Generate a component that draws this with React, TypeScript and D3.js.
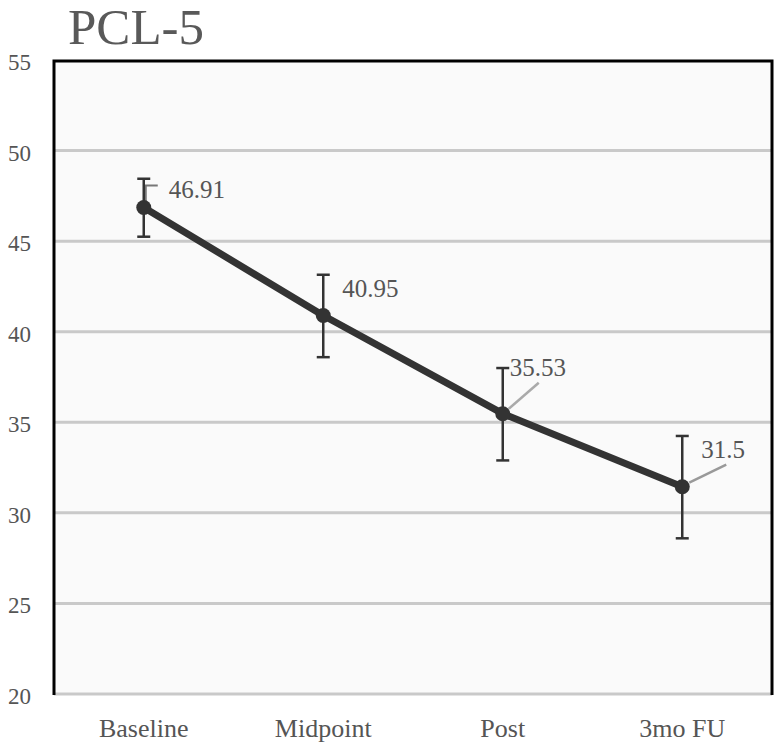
import React from "react";
import * as d3 from "d3";

const categories = ["Baseline", "Midpoint", "Post", "3mo FU"];
const means = [46.91, 40.95, 35.53, 31.5];
const upper = [48.5, 43.2, 38.05, 34.3];
const lower = [45.3, 38.65, 32.95, 28.65];
const yTicks = [20, 25, 30, 35, 40, 45, 50, 55];
const labelText = ["46.91", "40.95", "35.53", "31.5"];

const W = 775;
const H = 745;
const M = { left: 54, right: 772, top: 61, bottom: 695 };
const FONT = '"Liberation Serif", serif';

export default function App() {
  const x = d3.scaleBand<string>().domain(categories).range([M.left, M.right]);
  const y = d3.scaleLinear().domain([20, 55]).range([M.bottom, M.top]);
  const cx = (c: string) => (x(c) as number) + x.bandwidth() / 2;
  const line = d3
    .line<number>()
    .x((_, i) => cx(categories[i]))
    .y((d) => y(d));

  const labelOff = [
    { dx: 25, dy: -10 },
    { dx: 19, dy: -19 },
    { dx: 7, dy: -38 },
    { dx: 19, dy: -29 },
  ];

  const T = (props: any) => <text {...props} style={{ fontFamily: FONT }} />;

  return (
    <svg
      width={W}
      height={H}
      style={{ position: "absolute", left: 0, top: 0, fontFamily: FONT }}
    >
      <rect x={0} y={0} width={W} height={H} fill="#ffffff" />
      <T x={68} y={44} fontSize={51} fill="#595959">
        PCL-5
      </T>
      <rect x={M.left} y={M.top} width={M.right - M.left} height={M.bottom - M.top} fill="#fafafa" />
      {yTicks.map((t) => (
        <g key={t}>
          {t !== 55 && (
            <line x1={M.left} x2={M.right} y1={y(t) - 1} y2={y(t) - 1} stroke="#c9c9c9" strokeWidth={3} />
          )}
          <T x={31} y={y(t) + 9} textAnchor="end" fontSize={23} fill="#555">
            {t}
          </T>
        </g>
      ))}
      <path
        d={`M${M.left},${M.bottom} V${M.top} H${M.right} V${M.bottom}`}
        fill="none"
        stroke="#000"
        strokeWidth={3}
      />
      {categories.map((c) => (
        <T key={c} x={cx(c)} y={737} textAnchor="middle" fontSize={26} fill="#555">
          {c}
        </T>
      ))}
      <path
        d={`M${cx(categories[0]) + 2},${y(means[0]) - 6} V${y(means[0]) - 22} H${cx(categories[0]) + 14}`}
        fill="none"
        stroke="#777"
        strokeWidth={2}
      />
      <line
        x1={cx(categories[2]) + 6}
        y1={y(means[2]) - 5}
        x2={cx(categories[2]) + 36}
        y2={y(means[2]) - 31}
        stroke="#aaa"
        strokeWidth={2.5}
      />
      <line
        x1={cx(categories[3]) + 7}
        y1={y(means[3]) - 4}
        x2={cx(categories[3]) + 44}
        y2={y(means[3]) - 22}
        stroke="#999"
        strokeWidth={2.5}
      />
      <path d={line(means) || ""} fill="none" stroke="#333" strokeWidth={7} strokeLinejoin="round" />
      {categories.map((c, i) => (
        <g key={c} stroke="#333" strokeWidth={2.5}>
          <line x1={cx(c)} x2={cx(c)} y1={y(upper[i])} y2={y(lower[i])} />
          <line x1={cx(c) - 6.5} x2={cx(c) + 6.5} y1={y(upper[i])} y2={y(upper[i])} />
          <line x1={cx(c) - 6.5} x2={cx(c) + 6.5} y1={y(lower[i])} y2={y(lower[i])} />
        </g>
      ))}
      {categories.map((c, i) => (
        <circle key={c} cx={cx(c)} cy={y(means[i])} r={7.5} fill="#333" />
      ))}
      {categories.map((c, i) => (
        <T
          key={c}
          x={cx(c) + labelOff[i].dx}
          y={y(means[i]) + labelOff[i].dy}
          fontSize={25}
          fill="#555"
        >
          {labelText[i]}
        </T>
      ))}
    </svg>
  );
}
